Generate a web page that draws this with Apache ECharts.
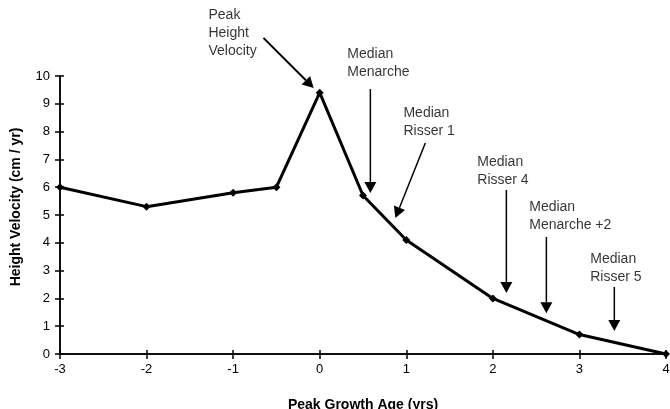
<!DOCTYPE html>
<html>
<head>
<meta charset="utf-8">
<script src="https://cdn.jsdelivr.net/npm/echarts@6/dist/echarts.min.js"></script>
<style>
  html, body { margin: 0; padding: 0; background: #fff; }
  #chart { width: 670px; height: 409px; }
</style>
</head>
<body>
<div id="chart"></div>
<script>
// growth curve
const ages = [-3, -2, -1, -0.5, 0, 0.5, 1, 2, 3, 4]
const velocity = [6, 5.3, 5.8, 6, 9.4, 5.7, 4.1, 2.0, 0.7, 0]

// annotations: label text, label top-left, arrow start and end (data units)
const noteText = ['Peak\nHeight\nVelocity', 'Median\nMenarche', 'Median\nRisser 1', 'Median\nRisser 4', 'Median\nMenarche +2', 'Median\nRisser 5']
const notePos = [[-1.285, 12.52], [0.319, 11.12], [0.967, 8.99], [1.82, 7.23], [2.42, 5.61], [3.125, 3.74]]
const arrowFrom = [[-0.65, 11.37], [0.585, 9.53], [1.22, 7.59], [2.156, 5.9], [2.618, 4.21], [3.403, 2.41]]
const arrowTo = [[-0.07, 9.57], [0.585, 5.79], [0.874, 4.89], [2.156, 2.19], [2.618, 1.47], [3.403, 0.83]]

const xTicks = [-3, -2, -1, 0, 1, 2, 3, 4]
const yTicks = [0, 1, 2, 3, 4, 5, 6, 7, 8, 9, 10]

const font = 'Arial, "Liberation Sans", sans-serif'

const chart = echarts.init(document.getElementById('chart'))

const axisBase = {
  type: 'value',
  splitLine: { show: false },
  axisLine: { show: true, onZero: false, lineStyle: { color: '#000', width: 1.5 } },
  axisTick: { show: true, length: 5, lineStyle: { color: '#000', width: 1.5 } }
}

// arrow = thin line + filled triangle head, placed with api.coord
function renderArrow (params, api) {
  const a = api.coord([api.value(0), api.value(1)])
  const b = api.coord([api.value(2), api.value(3)])
  const dx = b[0] - a[0]
  const dy = b[1] - a[1]
  const len = Math.sqrt(dx * dx + dy * dy)
  const ux = dx / len
  const uy = dy / len
  const headLen = 11
  const headHalf = 6
  const bx = b[0] - ux * headLen
  const by = b[1] - uy * headLen
  return {
    type: 'group',
    children: [{
      type: 'line',
      shape: { x1: a[0], y1: a[1], x2: bx, y2: by },
      style: { stroke: '#000', lineWidth: params.dataIndex === 0 ? 2 : 1.5 }
    }, {
      type: 'polygon',
      shape: { points: [b, [bx - uy * headHalf, by + ux * headHalf], [bx + uy * headHalf, by - ux * headHalf]] },
      style: { fill: '#000' }
    }]
  }
}

chart.setOption({
  animation: false,
  backgroundColor: '#fff',
  grid: { left: 60, right: 4, top: 76, bottom: 55, outerBoundsMode: 'none', containLabel: false },
  xAxis: [{
    ...axisBase,
    min: xTicks[0],
    max: xTicks[xTicks.length - 1],
    interval: 1,
    name: 'Peak Growth Age (yrs)',
    nameLocation: 'middle',
    nameGap: 44,
    nameTextStyle: { color: '#000', fontSize: 14, fontWeight: 'bold', fontFamily: font },
    axisLabel: { color: '#000', fontSize: 13, fontFamily: font, margin: 9 }
  }, {
    ...axisBase,
    position: 'bottom',
    min: xTicks[0],
    max: xTicks[xTicks.length - 1],
    interval: 1,
    axisTick: { show: true, inside: true, length: 4, lineStyle: { color: '#000', width: 1.5 } },
    axisLabel: { show: false }
  }],
  yAxis: [{
    ...axisBase,
    min: yTicks[0],
    max: yTicks[yTicks.length - 1],
    interval: 1,
    name: 'Height Velocity (cm / yr)',
    nameLocation: 'middle',
    nameGap: 37,
    nameTextStyle: { color: '#000', fontSize: 14, fontWeight: 'bold', fontFamily: font, padding: [0, 0, 0, 16] },
    axisLabel: { color: '#000', fontSize: 13, fontFamily: font, margin: 10 }
  }, {
    ...axisBase,
    position: 'left',
    min: yTicks[0],
    max: yTicks[yTicks.length - 1],
    interval: 1,
    axisTick: { show: true, inside: true, length: 4, lineStyle: { color: '#000', width: 1.5 } },
    axisLabel: { show: false }
  }],
  series: [{
    type: 'line',
    clip: false,
    data: ages.map((a, i) => [a, velocity[i]]),
    symbol: 'diamond',
    symbolSize: 8,
    lineStyle: { color: '#000', width: 3 },
    itemStyle: { color: '#000' }
  }, {
    type: 'custom',
    clip: false,
    silent: true,
    renderItem: renderArrow,
    data: arrowFrom.map((p, i) => [p[0], p[1], arrowTo[i][0], arrowTo[i][1]])
  }, {
    type: 'scatter',
    clip: false,
    silent: true,
    symbolSize: 0,
    data: notePos.map((p, i) => [p[0], p[1], noteText[i]]),
    label: {
      show: true,
      position: [0, 0],
      align: 'left',
      verticalAlign: 'top',
      color: '#000',
      fontSize: 14,
      lineHeight: 18,
      fontFamily: font,
      formatter: p => p.value[2]
    }
  }]
})
</script>
</body>
</html>
